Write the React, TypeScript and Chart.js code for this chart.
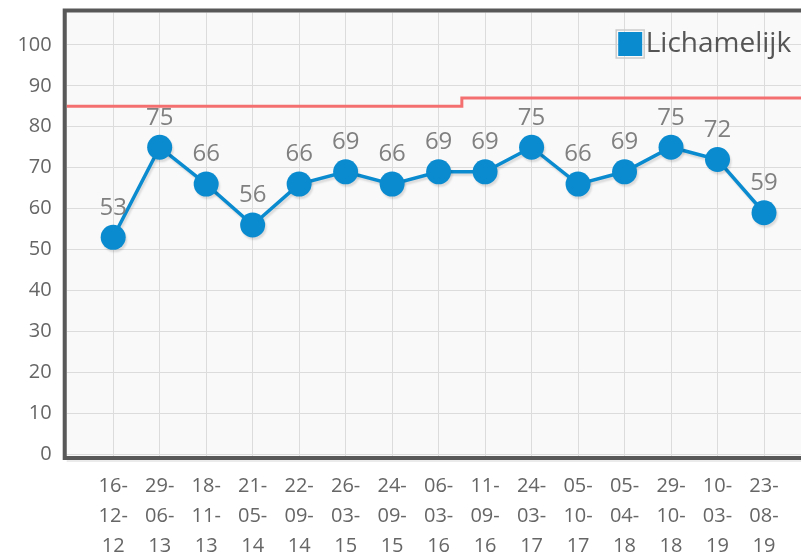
import React, { useEffect, useRef } from 'react';
import { Chart, registerables } from 'chart.js';

Chart.register(...registerables);

const dates = [
  '16-12-12', '29-06-13', '18-11-13', '21-05-14', '22-09-14', '26-03-15', '24-09-15', '06-03-16',
  '11-09-16', '24-03-17', '05-10-17', '05-04-18', '29-10-18', '10-03-19', '23-08-19',
];
const values = [53, 75, 66, 56, 66, 69, 66, 69, 69, 75, 66, 69, 75, 72, 59];
const targets = [85, 85, 85, 85, 85, 85, 85, 85, 87, 87, 87, 87, 87, 87, 87];
const yTicks = [0, 10, 20, 30, 40, 50, 60, 70, 80, 90, 100];
const seriesName = 'Lichamelijk';

const BLUE = '#0a8bd0';
const RED = '#f47070';
const FONT = "'Open Sans', sans-serif";

const W = 900;
const H = 556;
const PLOT_RIGHT = 810.5;

function dateLines(d: string): string[] {
  const parts = d.split('-');
  return parts.map((p, i) => (i < parts.length - 1 ? p + '-' : p));
}

const framePlugin = {
  id: 'frame',
  beforeDraw(chart: any) {
    const { ctx, chartArea: a } = chart;
    ctx.save();
    ctx.fillStyle = '#f9f9f9';
    ctx.fillRect(a.left, a.top, a.right - a.left, a.bottom - a.top);
    ctx.restore();
  },
  beforeDatasetsDraw(chart: any) {
    const { ctx, chartArea: a } = chart;
    ctx.save();
    ctx.strokeStyle = 'rgba(0,0,0,0.08)';
    ctx.lineWidth = 2;
    ctx.beginPath();
    ctx.moveTo(a.left, a.bottom + 5);
    ctx.lineTo(a.right + 4, a.bottom + 5);
    ctx.stroke();
    ctx.strokeStyle = '#585858';
    ctx.lineWidth = 4;
    ctx.beginPath();
    ctx.moveTo(a.right + 4, a.top - 2);
    ctx.lineTo(a.left - 2, a.top - 2);
    ctx.lineTo(a.left - 2, a.bottom + 2);
    ctx.lineTo(a.right + 4, a.bottom + 2);
    ctx.stroke();
    ctx.restore();
  },
  beforeDatasetDraw(chart: any, args: any) {
    const ctx = chart.ctx;
    ctx.save();
    if (args.index === 1) {
      ctx.shadowColor = 'rgba(0,0,0,0.12)';
      ctx.shadowOffsetX = 1.5;
      ctx.shadowOffsetY = 2.5;
      ctx.shadowBlur = 2;
    }
  },
  afterDatasetDraw(chart: any) {
    chart.ctx.restore();
  },
  afterDatasetsDraw(chart: any) {
    const { ctx } = chart;
    const meta = chart.getDatasetMeta(1);
    ctx.save();
    ctx.font = `24px ${FONT}`;
    ctx.fillStyle = '#808080';
    ctx.textAlign = 'center';
    ctx.textBaseline = 'middle';
    meta.data.forEach((el: any, i: number) => {
      ctx.fillText(String(values[i]), el.x, el.y - 29.5);
    });
    ctx.restore();
  },
  afterDraw(chart: any) {
    const { ctx, chartArea: a } = chart;
    const bx = a.left + 551;
    const by = a.top + 19;
    ctx.save();
    ctx.strokeStyle = '#cccccc';
    ctx.lineWidth = 1.5;
    ctx.strokeRect(bx - 1.5, by - 1.5, 28, 28);
    ctx.fillStyle = BLUE;
    ctx.fillRect(bx + 0.5, by + 0.5, 24, 24);
    ctx.font = `28px ${FONT}`;
    ctx.fillStyle = '#555555';
    ctx.textAlign = 'left';
    ctx.textBaseline = 'middle';
    ctx.fillText(seriesName, bx + 28, by + 13);
    ctx.restore();
  },
};

export default function App() {
  const ref = useRef<HTMLCanvasElement>(null);

  useEffect(() => {
    if (!ref.current) return;
    const n = dates.length;
    const targetData = [
      { x: 0, y: targets[0] },
      ...targets.map((t, i) => ({ x: i + 1, y: t })),
      { x: n + 1, y: targets[n - 1] },
    ];
    const chart = new Chart(ref.current, {
      type: 'line',
      data: {
        datasets: [
          {
            label: 'target',
            data: targetData,
            borderColor: RED,
            borderWidth: 3,
            pointRadius: 0,
            stepped: 'middle',
            fill: false,
          },
          {
            label: seriesName,
            data: values.map((v, i) => ({ x: i + 1, y: v })),
            borderColor: BLUE,
            backgroundColor: BLUE,
            borderWidth: 3.5,
            pointRadius: 12.5,
            pointBorderWidth: 0,
            pointBackgroundColor: BLUE,
            fill: false,
            tension: 0,
          },
        ],
      } as any,
      options: {
        responsive: false,
        animation: false,
        devicePixelRatio: 1,
        layout: { padding: { top: 11, right: W - PLOT_RIGHT, left: 0, bottom: 0 } },
        plugins: {
          legend: { display: false },
          tooltip: { enabled: false },
        },
        scales: {
          x: {
            type: 'linear',
            min: 0,
            max: n + 1,
            afterBuildTicks: (s: any) => {
              s.ticks = Array.from({ length: n + 2 }, (_, i) => ({ value: i }));
            },
            afterFit: (s: any) => {
              s.height = 100;
              s.paddingLeft = 0;
              s.paddingRight = 0;
            },
            grid: { color: '#dcdcdc', lineWidth: 1, drawTicks: false },
            border: { display: false },
            ticks: {
              autoSkip: false,
              maxRotation: 0,
              minRotation: 0,
              padding: 15,
              color: '#666666',
              font: { family: FONT, size: 20, lineHeight: 1.5 },
              callback: (v: any) => {
                const i = Math.round(Number(v)) - 1;
                return i >= 0 && i < dates.length ? dateLines(dates[i]) : '';
              },
            },
          },
          y: {
            type: 'linear',
            min: -0.4,
            max: 107.9,
            afterBuildTicks: (s: any) => {
              s.ticks = yTicks.map((v) => ({ value: v }));
            },
            afterFit: (s: any) => {
              s.width = 66.7;
              s.paddingTop = 0;
              s.paddingBottom = 0;
            },
            grid: { color: '#dcdcdc', lineWidth: 1, drawTicks: false },
            border: { display: false },
            ticks: {
              padding: 15,
              color: '#666666',
              font: { family: FONT, size: 20 },
            },
          },
        },
      } as any,
      plugins: [framePlugin],
    });
    return () => chart.destroy();
  }, []);

  return (
    <div
      style={{
        position: 'fixed',
        left: 0,
        top: 0,
        width: 801,
        height: 556,
        overflow: 'hidden',
        background: '#ffffff',
      }}
    >
      <canvas ref={ref} width={W} height={H} style={{ display: 'block', width: W, height: H }} />
    </div>
  );
}
